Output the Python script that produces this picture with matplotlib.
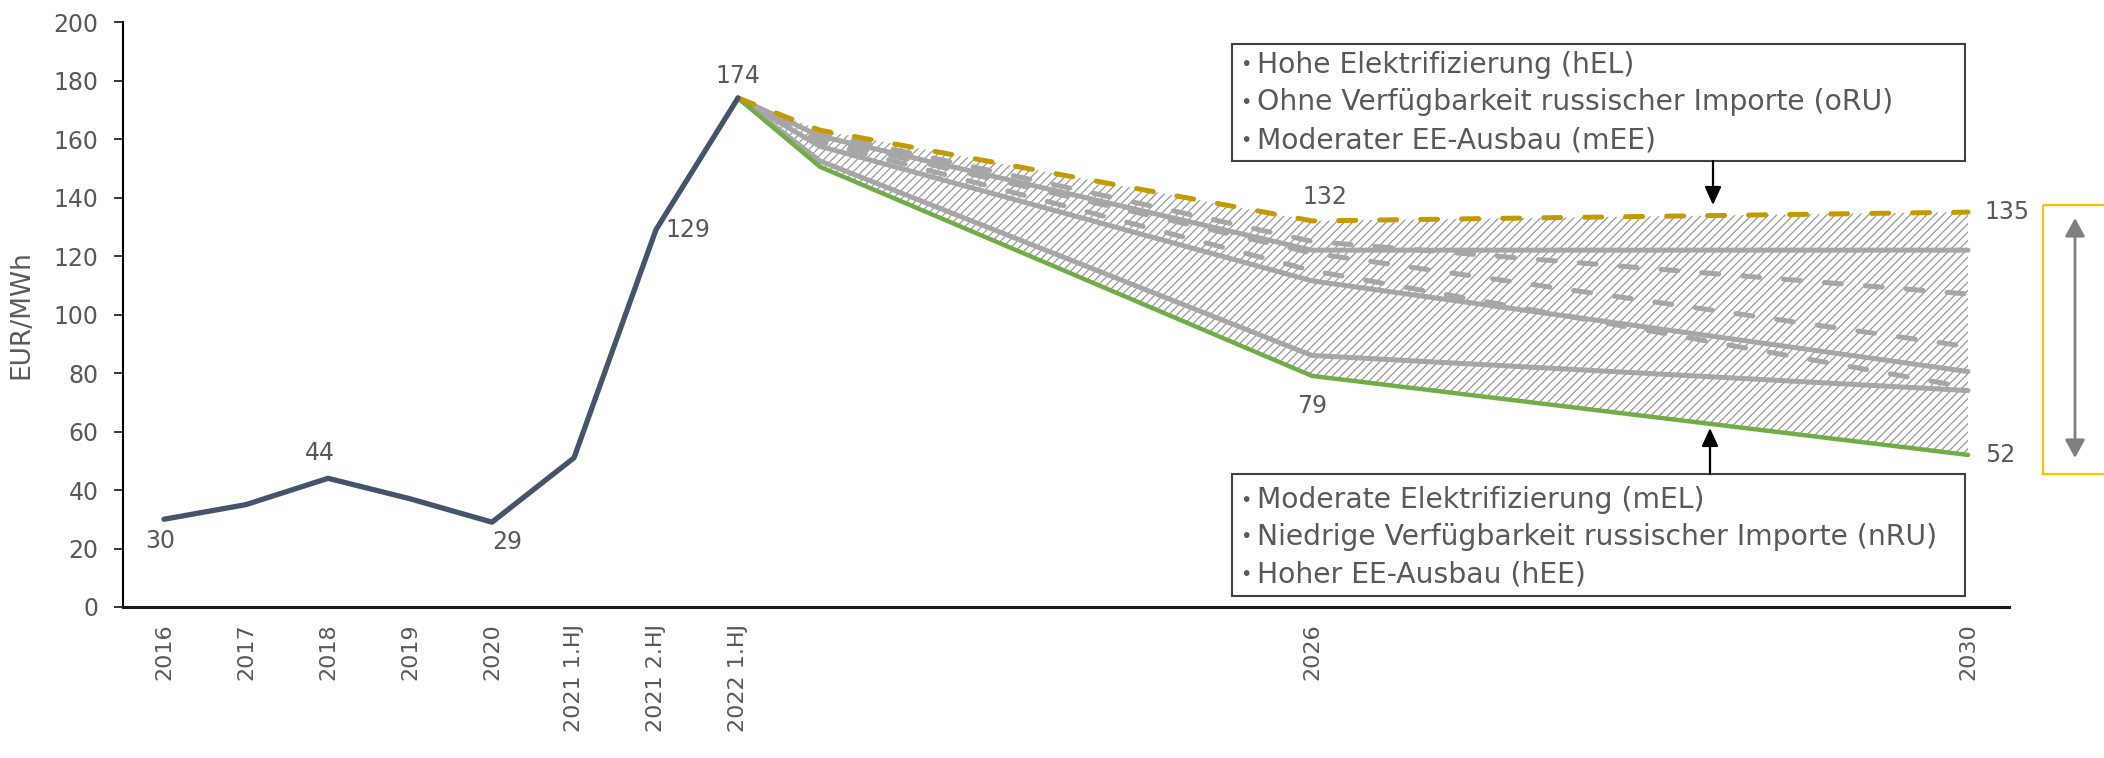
import matplotlib
matplotlib.use("Agg")
import matplotlib.pyplot as plt
from matplotlib.patches import Rectangle

# ---- data -------------------------------------------------------------
# 23 category slots on the x axis; only some of them carry a label
x_labels = ["2016", "2017", "2018", "2019", "2020", "2021 1.HJ", "2021 2.HJ", "2022 1.HJ",
            "", "", "", "", "", "", "2026",
            "", "", "", "", "", "", "", "2030"]

# historical prices (EUR/MWh), slots 0..7
hist_slots = [0, 1, 2, 3, 4, 5, 6, 7]
hist_values = [30, 35, 44, 37, 29, 51, 129, 174]

# scenario paths, slots: 2022 1.HJ, following half year, 2026, 2030
scen_slots = [7, 8, 14, 22]
scen_upper = [174, 163, 132, 135]      # hEL / oRU / mEE
scen_lower = [174, 150.5, 79, 52]      # mEL / nRU / hEE
scen_solid = [
    [174, 161, 122, 122],
    [174, 157.5, 111.5, 80.5],
    [174, 152.5, 86, 74],
]
scen_dashed = [
    [174, 162, 125, 107],
    [174, 160, 121, 89],
    [174, 159, 115, 75],
]

box_top_lines = ["Hohe Elektrifizierung (hEL)",
                 "Ohne Verfügbarkeit russischer Importe (oRU)",
                 "Moderater EE-Ausbau (mEE)"]
box_bottom_lines = ["Moderate Elektrifizierung (mEL)",
                    "Niedrige Verfügbarkeit russischer Importe (nRU)",
                    "Hoher EE-Ausbau (hEE)"]

y_ticks = [0, 20, 40, 60, 80, 100, 120, 140, 160, 180, 200]

# ---- style ------------------------------------------------------------
TEXT = "#595959"
HIST = "#44546A"
GOLD = "#C49A00"
GREEN = "#70AD47"
GRAY = "#A6A6A6"
plt.rcParams["font.family"] = ["DejaVu Sans"]
plt.rcParams["hatch.linewidth"] = 0.85

W, H = 2104, 758
fig = plt.figure(figsize=(W / 100, H / 100), dpi=100)
ax = fig.add_axes([123 / W, 1 - 607 / H, (2009 - 123) / W, (607 - 22) / H])

ax.set_xlim(-0.5, len(x_labels) - 0.5)
ax.set_ylim(0, 200)

# hatched corridor between the extreme scenarios
ax.fill_between(scen_slots, scen_lower, scen_upper, facecolor="none",
                edgecolor="#939393", hatch="////", linewidth=0, zorder=1)

dash = (3.4, 4.8)
for vals in scen_dashed:
    ax.plot(scen_slots, vals, color=GRAY, lw=3.6, dashes=dash,
            dash_capstyle="round", solid_capstyle="round", zorder=2)
for vals in scen_solid:
    ax.plot(scen_slots, vals, color=GRAY, lw=3.6, solid_capstyle="round", zorder=2.5)

ax.plot(scen_slots, scen_lower, color=GREEN, lw=3.2, solid_capstyle="round", zorder=3)
ax.plot(scen_slots, scen_upper, color=GOLD, lw=3.6, dashes=dash,
        dash_capstyle="round", zorder=3.5)
ax.plot(hist_slots, hist_values, color=HIST, lw=3.8, solid_joinstyle="round",
        solid_capstyle="round", zorder=4)

# value labels
lab_kw = dict(textcoords="offset points", color=TEXT, fontsize=17, va="center", zorder=6)
ax.annotate(f"{hist_values[0]}", (hist_slots[0], hist_values[0]), xytext=(-3, -16), ha="center", **lab_kw)
ax.annotate(f"{hist_values[2]}", (hist_slots[2], hist_values[2]), xytext=(-6, 18), ha="center", **lab_kw)
ax.annotate(f"{hist_values[4]}", (hist_slots[4], hist_values[4]), xytext=(11, -14), ha="center", **lab_kw)
ax.annotate(f"{hist_values[6]}", (hist_slots[6], hist_values[6]), xytext=(7, 0), ha="left", **lab_kw)
ax.annotate(f"{hist_values[7]}", (hist_slots[7], hist_values[7]), xytext=(0, 16), ha="center", **lab_kw)
ax.annotate(f"{scen_upper[2]}", (scen_slots[2], scen_upper[2]), xytext=(9, 17), ha="center", **lab_kw)
ax.annotate(f"{scen_lower[2]}", (scen_slots[2], scen_lower[2]), xytext=(0, -22), ha="center", **lab_kw)
ax.annotate(f"{scen_upper[3]}", (scen_slots[3], scen_upper[3]), xytext=(12, 0), ha="left", **lab_kw)
ax.annotate(f"{scen_lower[3]}", (scen_slots[3], scen_lower[3]), xytext=(12, 0), ha="left", **lab_kw)

# axes styling
for s in ("top", "right"):
    ax.spines[s].set_visible(False)
ax.spines["left"].set_linewidth(1.5)
ax.spines["bottom"].set_linewidth(2.2)
ax.spines["bottom"].set_color("#1A1A1A")
ax.set_yticks(y_ticks)
ax.tick_params(axis="y", length=6.5, width=1.1, pad=11, labelsize=17, labelcolor=TEXT)
ax.set_xticks(range(len(x_labels)))
ax.set_xticklabels(x_labels, rotation=90, fontsize=16, color=TEXT)
ax.tick_params(axis="x", length=0, pad=12)
ax.set_ylabel("EUR/MWh", fontsize=19, color=TEXT)
ax.yaxis.set_label_coords(-0.047, 0.5)

# overlay in pixel coordinates for the boxes and arrows
ov = fig.add_axes([0, 0, 1, 1], zorder=10)
ov.set_xlim(0, W)
ov.set_ylim(H, 0)
ov.axis("off")
ov.patch.set_visible(False)

def text_box(y0, y1, lines, rows):
    ov.add_patch(Rectangle((1232, y0), 733, y1 - y0, facecolor="white",
                           edgecolor="#404040", lw=1.5))
    for yy, line in zip(rows, lines):
        ov.text(1240, yy, "•", fontsize=14, color=TEXT, va="center", ha="left")
        ov.text(1257, yy, line, fontsize=20.3, color=TEXT, va="center", ha="left")

text_box(44, 161, box_top_lines, [65, 102, 140])
text_box(474, 596, box_bottom_lines, [500, 537, 575])

arr = dict(arrowstyle="-|>,head_length=0.55,head_width=0.25", color="black",
           lw=1.6, mutation_scale=20, shrinkA=0, shrinkB=0)
ov.annotate("", xy=(1713, 205), xytext=(1713, 161), arrowprops=arr)
ov.annotate("", xy=(1710, 428), xytext=(1710, 474), arrowprops=arr)

# range bracket on the right edge
ov.add_patch(Rectangle((2043, 205), 120, 269, facecolor="none",
                       edgecolor="#FFC000", lw=1.6, clip_on=False))
ov.annotate("", xy=(2075, 218), xytext=(2075, 458),
            arrowprops=dict(arrowstyle="<|-|>,head_length=0.55,head_width=0.3",
                            color="#7F7F7F", lw=2.0, mutation_scale=20,
                            shrinkA=0, shrinkB=0))

fig.savefig("out.png", dpi=100, facecolor="white")
